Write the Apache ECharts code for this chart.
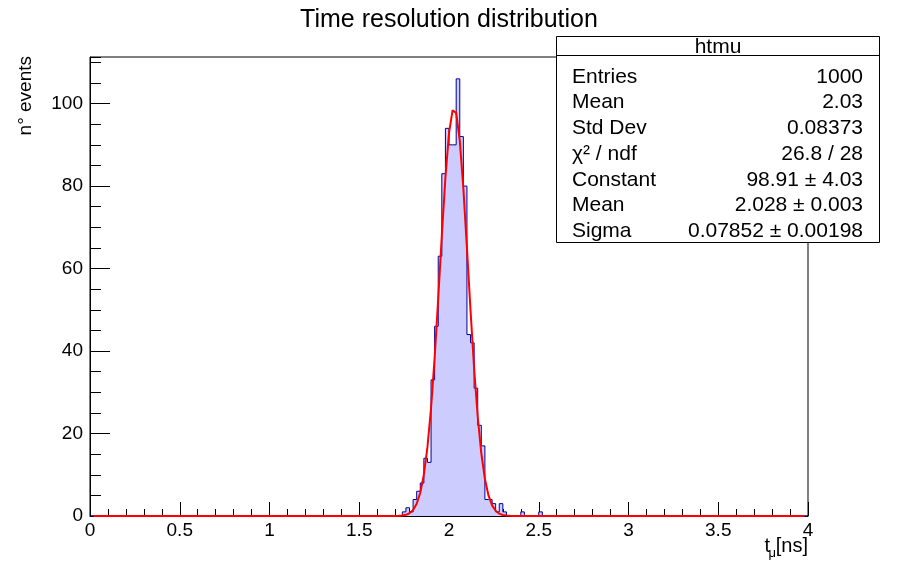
<!DOCTYPE html>
<html>
<head>
<meta charset="utf-8">
<script src="https://cdn.jsdelivr.net/npm/echarts@6/dist/echarts.min.js"></script>
<style>
  html, body { margin: 0; padding: 0; background: #fff; }
  #chart { width: 898px; height: 574px; }
</style>
</head>
<body>
<div id="chart"></div>
<script>
// histogram htmu : 200 bins on [0,4], only the filled part is listed
var xMin = 0, xMax = 4, yMax = 111.3;
var binWidth = 0.02;
var firstBin = 1.74;
var counts = [1, 2, 1, 4, 6, 8, 14, 13, 33, 46, 63, 83, 94, 90, 90, 106, 92, 80, 44, 42,
              31, 22, 17, 4, 4, 3, 1, 3, 1, 0, 0, 0, 0, 1, 0, 0, 0, 0, 1];

// gaus fit, every 0.02 from 1.70
var fitStart = 1.70, fitStep = 0.02;
var fitValues = [0.016, 0.045, 0.119, 0.292, 0.675, 1.46, 2.96, 5.63, 10.03, 16.74,
                 26.19, 38.41, 52.79, 67.98, 82.05, 92.82, 98.40, 97.76, 91.03, 79.43,
                 64.96, 49.79, 35.76, 24.07, 15.19, 8.98, 4.98, 2.58, 1.26, 0.57,
                 0.25, 0.10, 0.04, 0.01];
var fitRange = [0.02, 3.98];

var statsTitle = 'htmu';
var statsRows = [
  ['Entries', '1000'],
  ['Mean', '2.03'],
  ['Std Dev', '0.08373'],
  ['\u03c7\u00b2 / ndf', '26.8 / 28'],
  ['Constant', '98.91 \u00b1 4.03'],
  ['Mean', '2.028 \u00b1 0.003'],
  ['Sigma', '0.07852 \u00b1 0.00198']
];

var histPts = [[xMin, 0]];
counts.forEach(function (c, i) {
  histPts.push([+(firstBin + i * binWidth).toFixed(4), c]);
});
histPts.push([+(firstBin + counts.length * binWidth).toFixed(4), 0]);
histPts.push([xMax, 0]);

var fitPts = [[fitRange[0], 0]];
fitValues.forEach(function (v, i) {
  fitPts.push([+(fitStart + i * fitStep).toFixed(4), v]);
});
fitPts.push([fitRange[1], 0]);

var FONT = '"Liberation Sans", Arial, Helvetica, sans-serif';

var chart = echarts.init(document.getElementById('chart'));

var graphics = [
  {
    type: 'text', x: 449, y: 20,
    style: { text: 'Time resolution distribution', font: '25px ' + FONT, fill: '#000',
             textAlign: 'center', textVerticalAlign: 'middle' }
  },
  {
    type: 'text', x: 26, y: 56, rotation: Math.PI / 2,
    style: { text: 'n\u00b0 events', font: '19px ' + FONT, fill: '#000',
             textAlign: 'right', textVerticalAlign: 'middle' }
  },
  {
    type: 'text', x: 808, y: 546,
    style: { text: '[ns]', font: '20px ' + FONT, fill: '#000',
             textAlign: 'right', textVerticalAlign: 'middle' }
  },
  {
    type: 'text', x: 776, y: 553,
    style: { text: '\u03bc', font: '13px ' + FONT, fill: '#000',
             textAlign: 'right', textVerticalAlign: 'middle' }
  },
  {
    type: 'text', x: 770, y: 546,
    style: { text: 't', font: '20px ' + FONT, fill: '#000',
             textAlign: 'right', textVerticalAlign: 'middle' }
  },
  {
    type: 'rect', shape: { x: 556.5, y: 36.5, width: 323, height: 206 },
    style: { fill: '#fff', stroke: '#000', lineWidth: 1 }, z: 10
  },
  {
    type: 'line', shape: { x1: 556.5, y1: 55.5, x2: 879.5, y2: 55.5 },
    style: { stroke: '#000', lineWidth: 1 }, z: 11
  },
  {
    type: 'text', x: 718, y: 47, z: 11,
    style: { text: statsTitle, font: '21px ' + FONT, fill: '#000',
             textAlign: 'center', textVerticalAlign: 'middle' }
  }
];

statsRows.forEach(function (row, i) {
  var y = 77 + i * 25.7;
  graphics.push({
    type: 'text', x: 572, y: y, z: 11,
    style: { text: row[0], font: '21px ' + FONT, fill: '#000',
             textAlign: 'left', textVerticalAlign: 'middle' }
  });
  graphics.push({
    type: 'text', x: 863, y: y, z: 11,
    style: { text: row[1], font: '21px ' + FONT, fill: '#000',
             textAlign: 'right', textVerticalAlign: 'middle' }
  });
});

var option = {
  animation: false,
  backgroundColor: '#fff',
  textStyle: { fontFamily: FONT },
  grid: {
    left: 90, right: 90, top: 57, bottom: 58,
    show: true, borderColor: '#000', borderWidth: 1, backgroundColor: 'transparent'
  },
  xAxis: [{
    type: 'value', min: xMin, max: xMax, interval: 0.5,
    axisLine: { show: true, onZero: false, lineStyle: { color: '#000', width: 1 } },
    axisTick: { show: true, inside: true, length: 14, lineStyle: { color: '#000' } },
    minorTick: { show: true, splitNumber: 5, length: 7, lineStyle: { color: '#000' } },
    splitLine: { show: false },
    axisLabel: {
      color: '#000', fontSize: 19, fontFamily: FONT, margin: 5,
      formatter: function (v) { return String(+v.toFixed(1)); }
    }
  }],
  yAxis: [{
    type: 'value', min: 0, max: yMax, interval: 20,
    axisLine: { show: true, onZero: false, lineStyle: { color: '#000', width: 1 } },
    axisTick: { show: true, inside: true, length: 20, lineStyle: { color: '#000' } },
    splitLine: { show: false },
    axisLabel: {
      color: '#000', fontSize: 19, fontFamily: FONT, margin: 7, showMaxLabel: false,
      formatter: function (v) { return v % 20 === 0 ? String(v) : ''; }
    }
  }, {
    type: 'value', min: 0, max: yMax, interval: 5, position: 'left',
    axisLine: { show: false },
    axisTick: { show: true, inside: true, length: 11, lineStyle: { color: '#000' } },
    splitLine: { show: false },
    axisLabel: { show: false }
  }],
  series: [
    {
      type: 'line', name: 'htmu', step: 'end', data: histPts,
      showSymbol: false, clip: true,
      lineStyle: { color: '#000099', width: 1 },
      areaStyle: { color: '#ccccff', opacity: 1 },
      z: 2
    },
    {
      type: 'line', name: 'gaus', data: fitPts,
      showSymbol: false, clip: true, smooth: false,
      lineStyle: { color: '#ff0000', width: 2 },
      z: 3
    }
  ],
  graphic: graphics
};

chart.setOption(option);
</script>
</body>
</html>
